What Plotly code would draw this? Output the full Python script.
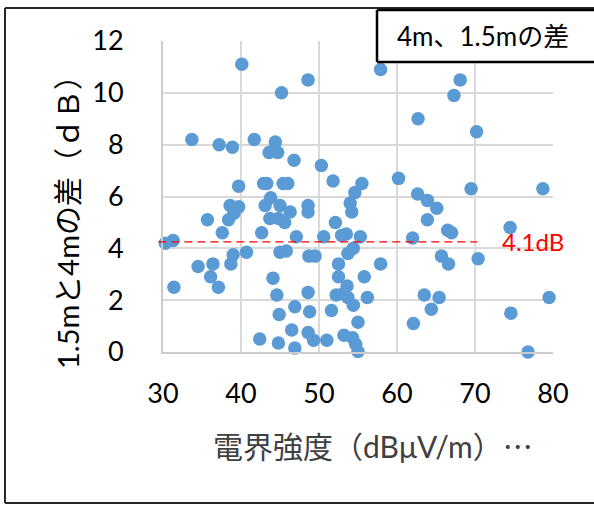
import plotly.graph_objects as go

# Field strength (dBμV/m)
field_strength = [
    40.1, 57.9, 48.6, 68.1, 45.2, 67.3, 62.7, 70.2,
    33.7, 41.7, 44.4, 37.2, 38.9, 43.6, 44.7, 46.8, 50.3,
    51.8, 60.2, 39.7, 42.9, 43.3, 45.4, 46.0, 55.5,
    54.6, 54.0, 54.2, 69.5, 78.7, 62.65, 63.9, 65.1, 63.9,
    43.8, 43.1, 45.0, 46.3, 44.8, 45.6, 43.7,
    48.6, 48.6,
    38.6, 39.7, 39.1, 38.4,
    35.7, 37.6, 42.65, 47.1, 50.6, 52.1,
    52.9, 53.5, 55.3, 62.0, 74.5, 66.5, 67.0,
    30.3, 31.3,
    54.4, 53.7,
    40.7, 39.0, 38.7, 45.0, 45.8, 48.7, 49.5,
    57.9, 65.7, 66.6, 70.4,
    34.5, 36.4, 36.1, 37.1, 31.4,
    52.5, 52.5, 55.8, 44.1, 53.6,
    52.2, 53.1, 53.7, 56.2, 48.6, 44.6, 63.5, 65.4, 79.5,
    54.4, 51.6, 46.9, 48.8, 44.9, 64.4, 74.6,
    55.0, 62.1, 46.5, 42.4, 48.6, 49.3, 51.0, 44.8, 46.9,
    53.2, 54.3, 54.7, 55.0, 76.8,
]
# Difference between 1.5 m and 4 m (dB)
difference_db = [
    11.1, 10.9, 10.5, 10.5, 10.0, 9.9, 9.0, 8.5,
    8.2, 8.2, 8.1, 8.0, 7.9, 7.7, 7.7, 7.4, 7.2,
    6.6, 6.7, 6.4, 6.5, 6.5, 6.5, 6.5, 6.5,
    6.15, 5.75, 5.4, 6.3, 6.3, 6.1, 5.85, 5.55, 5.1,
    5.95, 5.65, 5.65, 5.4, 5.15, 5.0, 5.15,
    5.65, 5.4,
    5.65, 5.6, 5.35, 5.1,
    5.1, 4.6, 4.6, 4.45, 4.45, 5.0,
    4.5, 4.55, 4.45, 4.4, 4.8, 4.7, 4.6,
    4.2, 4.3,
    4.0, 3.8,
    3.85, 3.75, 3.4, 3.85, 3.9, 3.7, 3.7,
    3.4, 3.7, 3.4, 3.6,
    3.3, 3.4, 2.9, 2.5, 2.5,
    3.4, 2.9, 2.9, 2.85, 2.55,
    2.2, 2.25, 2.1, 2.1, 2.3, 2.2, 2.2, 2.1, 2.1,
    1.8, 1.6, 1.75, 1.55, 1.45, 1.65, 1.5,
    1.15, 1.1, 0.85, 0.5, 0.75, 0.45, 0.45, 0.35, 0.15,
    0.65, 0.55, 0.3, 0.02, 0.0,
]

x_range = [30, 80]
y_range = [0, 12]
mean_label = "4.1dB"
mean_line_y = 4.25
mean_line_x = [29.4, 70.3]
series_name = "4m、1.5mの差"
x_title = "電界強度（dBμV/m）…"
y_title = "1.5mと4mの差（ｄＢ）"

FONT = "Lato, 'Noto Sans CJK JP', sans-serif"
CJK = "'Noto Sans CJK JP'"
GRID = "#d9d9d9"

W, H = 594, 505
PL, PT, PW, PH = 163, 41, 390, 311


def px(wx):
    return (wx - PL) / PW


def py(wy):
    return (PT + PH - wy) / PH


def xpaper(v):
    return (v - x_range[0]) / (x_range[1] - x_range[0])


def seg(x0, y0, x1, y1, color, width, layer="above"):
    fig.add_shape(type="line", xref="paper", yref="paper",
                  x0=x0, y0=y0, x1=x1, y1=y1,
                  line=dict(color=color, width=width), layer=layer)


fig = go.Figure()
fig.add_trace(go.Scatter(
    x=field_strength, y=difference_db, mode="markers", name=series_name,
    marker=dict(size=13.5, color="#5B9BD5", line=dict(width=0)),
    showlegend=False, cliponaxis=False,
))

fig.add_shape(type="line", xref="paper", yref="y",
              x0=xpaper(mean_line_x[0]), x1=xpaper(mean_line_x[1]),
              y0=mean_line_y, y1=mean_line_y,
              line=dict(color="#FF0000", width=1.3, dash="8px,5px"))
fig.add_annotation(xref="paper", yref="y", x=px(500), y=mean_line_y,
                   text=mean_label, showarrow=False, xanchor="left", yanchor="middle",
                   font=dict(family=FONT, size=24, color="#FF0000"))

# Chart outer border (right side is cut off in the picture)
bx0, bx1, by0, by1 = px(5), px(600), py(503), py(8)
seg(bx0, by1, bx1, by1, "#262626", 2, "below")
seg(bx0, by0, bx1, by0, "#262626", 2, "below")
seg(bx0, by0, bx0, by1, "#262626", 2, "below")

# Legend box
lx0, lx1, ly0, ly1 = px(377), px(600), py(62), py(10)
fig.add_shape(type="rect", xref="paper", yref="paper",
              x0=lx0, x1=lx1, y0=ly0, y1=ly1,
              line=dict(width=0), fillcolor="white", layer="above")
seg(lx0, ly1, lx1, ly1, "#000000", 2.5)
seg(lx0, ly0, lx1, ly0, "#000000", 2.5)
seg(lx0, ly0, lx0, ly1, "#000000", 2.5)
fig.add_annotation(xref="paper", yref="paper", x=px(395), y=py(36),
                   text=series_name, showarrow=False, xanchor="left", yanchor="middle",
                   font=dict(family=FONT, size=26, color="#000000"))

# Axis titles
x_title_html = x_title.replace("…", f"<span style=\"font-family:{CJK}\">…</span>")
fig.add_annotation(xref="paper", yref="paper", x=px(373), y=py(445),
                   text=x_title_html, showarrow=False, xanchor="center", yanchor="middle",
                   font=dict(family=FONT, size=30, color="#404040"))
fig.add_annotation(xref="paper", yref="paper", x=px(67), y=py(215),
                   text=y_title, showarrow=False, textangle=-90, xanchor="center", yanchor="middle",
                   font=dict(family=FONT, size=29, color="#000000"))

fig.update_layout(
    width=W, height=H,
    margin=dict(l=PL, r=W - PL - PW, t=PT, b=H - PT - PH),
    paper_bgcolor="white", plot_bgcolor="white",
    font=dict(family=FONT, color="#000000"),
    showlegend=False,
)
fig.update_xaxes(range=x_range, dtick=10, showgrid=True, gridcolor=GRID, gridwidth=2,
                 zeroline=False, showline=True, linecolor="#cccccc", linewidth=2,
                 ticks="", ticklabelstandoff=17, tickfont=dict(family=FONT, size=27, color="#000000"))
fig.update_yaxes(range=y_range, dtick=2, showgrid=True, gridcolor=GRID, gridwidth=2,
                 zeroline=False, showline=True, linecolor="#cccccc", linewidth=2,
                 ticks="", ticklabelstandoff=32, tickfont=dict(family=FONT, size=27, color="#000000"))

fig.write_html("out.html", config={"displayModeBar": False},
               post_script="document.body.style.margin='0';document.body.style.overflow='hidden';")
